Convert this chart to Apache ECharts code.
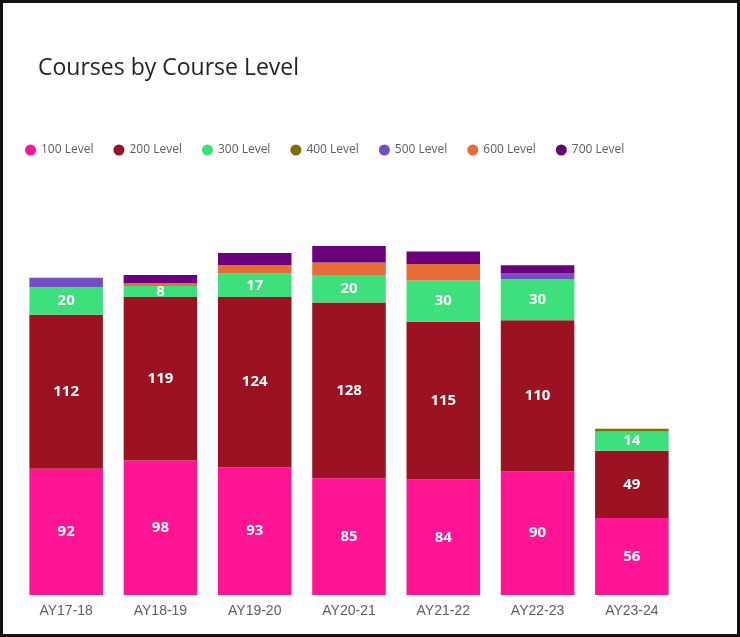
<!DOCTYPE html>
<html>
<head>
<meta charset="utf-8">
<script src="https://cdn.jsdelivr.net/npm/echarts@6/dist/echarts.min.js"></script>
<style>
html,body{margin:0;padding:0;background:#fff;}
#frame{position:absolute;left:0;top:0;width:734px;height:631px;border:3px solid #111;}
#chart{position:absolute;left:-3px;top:-3px;width:740px;height:637px;}
</style>
</head>
<body>
<div id="frame"><div id="chart"></div></div>
<script>
const categories = ['AY17-18','AY18-19','AY19-20','AY20-21','AY21-22','AY22-23','AY23-24'];
const seriesNames = ['100 Level','200 Level','300 Level','400 Level','500 Level','600 Level','700 Level'];
const level100 = [92, 98, 93, 85, 84, 90, 56];
const level200 = [112, 119, 124, 128, 115, 110, 49];
const level300 = [20, 8, 17, 20, 30, 30, 14];
const level400 = [0, 0, 0, 0, 0, 0, 2];
const level500 = [7, 0, 0, 0, 0, 4, 0];
const level600 = [0, 2, 6, 9, 12, 0, 0];
const level700 = [0, 6, 9, 12, 9, 6, 0];
const colors = ['#FF1493','#9B1222','#3DE07A','#7F6F00','#744EC2','#E66C37','#6B007B'];
const labelled = [true, true, true, false, false, false, false];

const allData = [level100, level200, level300, level400, level500, level600, level700];

const chart = echarts.init(document.getElementById('chart'));
chart.setOption({
  animation: false,
  title: {
    text: 'Courses by Course Level',
    left: 33, top: 52,
    textStyle: { fontFamily: 'Open Sans', fontWeight: 'normal', fontSize: 23, color: '#252423' }
  },
  legend: {
    top: 139, left: 20,
    icon: 'circle', itemWidth: 11, itemHeight: 11, itemGap: 20,
    textStyle: { fontFamily: 'Open Sans', fontSize: 12, color: '#605E5C' },
    data: seriesNames
  },
  grid: { left: 19, right: 61, top: 231, bottom: 42 },
  xAxis: {
    type: 'category', data: categories,
    axisLine: { show: false }, axisTick: { show: false },
    axisLabel: { fontFamily: 'Liberation Sans Narrow, Arial Narrow, Liberation Sans', fontSize: 14, color: '#605E5C', margin: 9 }
  },
  yAxis: { type: 'value', min: 0, max: 265, show: false, splitLine: { show: false } },
  series: allData.map((d, i) => ({
    name: seriesNames[i], type: 'bar', stack: 'total',
    barCategoryGap: '22%',
    data: d,
    itemStyle: { color: colors[i] },
    label: {
      show: labelled[i], position: 'inside', color: '#fff',
      fontFamily: 'Open Sans', fontWeight: 'bold', fontSize: 15,
      formatter: p => p.value > 0 ? p.value : ''
    }
  }))
});
</script>
</body>
</html>
